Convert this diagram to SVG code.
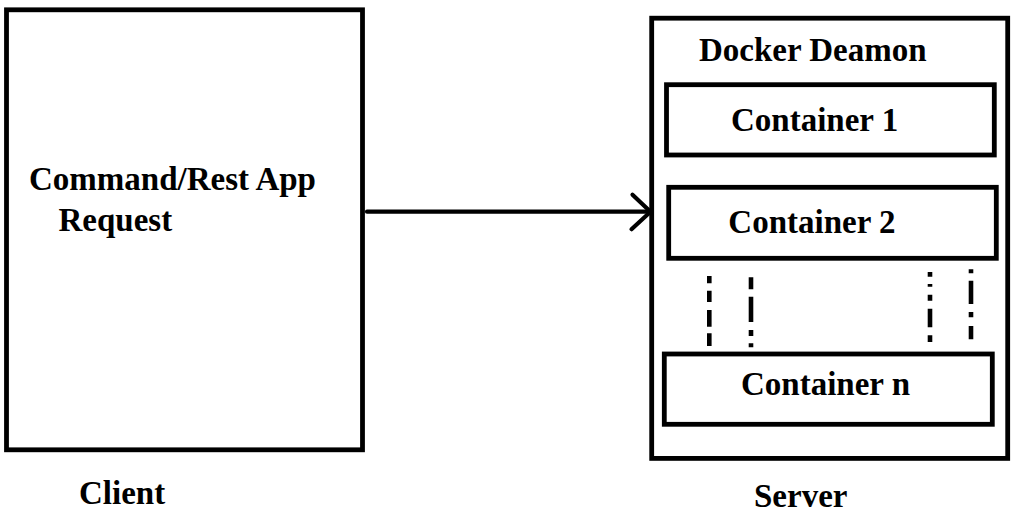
<svg xmlns="http://www.w3.org/2000/svg" width="1015" height="518" viewBox="0 0 1015 518">
  <style>
    .box { fill: #ffffff; stroke: #000000; stroke-width: 4.8; }
    .inner { fill: #ffffff; stroke: #000000; stroke-width: 4.8; }
    .label { font-family: "Liberation Serif", "Times New Roman", serif; font-weight: bold; font-size: 33px; fill: #000000; }
    .conn { fill: none; stroke: #000000; stroke-width: 4.2; stroke-linecap: round; }
    .dash { fill: none; stroke: #000000; stroke-width: 4.6; stroke-linecap: butt; }
  </style>
  <defs>
    <marker id="chevron" markerUnits="userSpaceOnUse" markerWidth="40" markerHeight="40" refX="0" refY="0" viewBox="-22 -20 26 40" orient="auto" overflow="visible">
      <path d="M-18,-17 L0,0 L-19,17.5" fill="none" stroke="#000000" stroke-width="4.2" stroke-linecap="round" stroke-linejoin="round"/>
    </marker>
  </defs>
  <rect width="1015" height="518" fill="#ffffff"/>

  <g id="client">
    <rect class="box" x="6.5" y="9.8" width="356" height="440"/>
    <text class="label" x="29" y="190">Command/Rest App</text>
    <text class="label" x="58.5" y="230.7">Request</text>
    <text class="label" x="79" y="504.3">Client</text>
  </g>

  <g id="server">
    <rect class="box" x="651.7" y="18.2" width="356" height="440.2"/>
    <text class="label" x="699" y="61">Docker Deamon</text>
    <text class="label" x="754" y="507.3">Server</text>
  </g>

  <g id="container-1">
    <rect class="inner" x="666.5" y="84.7" width="327.8" height="70.3"/>
    <text class="label" x="731" y="131">Container 1</text>
  </g>

  <g id="container-2">
    <rect class="inner" x="668.7" y="187.3" width="327.6" height="71"/>
    <text class="label" x="728.3" y="233.3">Container 2</text>
  </g>

  <g id="container-n">
    <rect class="inner" x="664.3" y="354" width="328" height="70.3"/>
    <text class="label" x="741" y="395">Container n</text>
  </g>

  <g id="ellipsis">
    <path class="dash" d="M709.3,276 V283.3 M709.3,290.7 V302 M709.3,310 V326.7 M709.3,333.3 V346"/>
    <path class="dash" d="M751,277.3 V289.3 M751,296.7 V322 M751,330 V336 M751,343.3 V347.3"/>
    <path class="dash" d="M930,272 V276.7 M930,284 V286.7 M930,294.7 V300.7 M930,308.7 V327.3 M930,335.3 V342"/>
    <path class="dash" d="M971,269.3 V273.3 M971,280.7 V304 M971,312 V317.3 M971,326 V339.3"/>
  </g>

  <g id="connectors">
    <path class="conn" d="M367,211.7 L650.5,211.7" marker-end="url(#chevron)"/>
  </g>
</svg>
